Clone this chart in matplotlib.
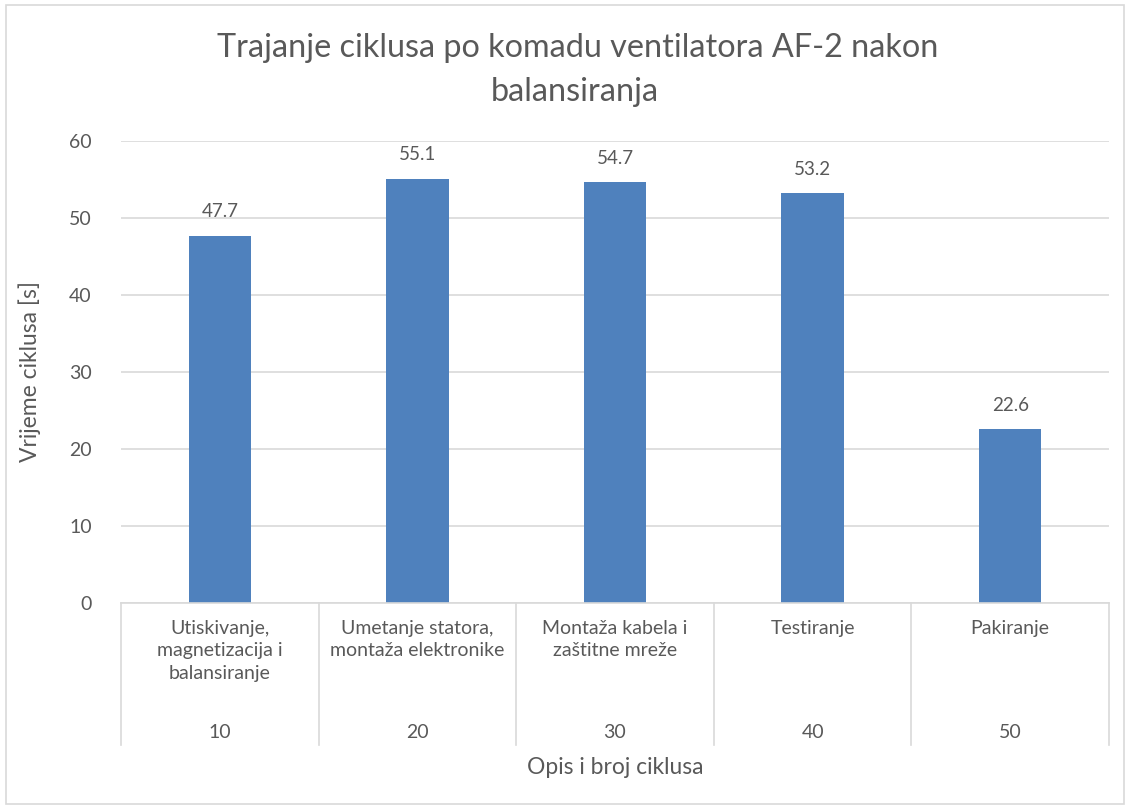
import matplotlib
matplotlib.use("Agg")
import matplotlib.pyplot as plt
from matplotlib.patches import Rectangle
import matplotlib.transforms as mtransforms

# Cycle times per operation after balancing
categories = [
    "Utiskivanje,\nmagnetizacija i\nbalansiranje",
    "Umetanje statora,\nmontaža elektronike",
    "Montaža kabela i\nzaštitne mreže",
    "Testiranje",
    "Pakiranje",
]
cycle_numbers = ["10", "20", "30", "40", "50"]
cycle_times = [47.7, 55.1, 54.7, 53.2, 22.6]
y_ticks = [0, 10, 20, 30, 40, 50, 60]

TEXT = "#595959"
GRID = "#d9d9d9"
BAR = "#4f81bd"
FONT = ["Lato", "DejaVu Sans"]

plt.rcParams["font.family"] = FONT

W, H = 1130, 809
fig = plt.figure(figsize=(W / 100, H / 100), dpi=100)

# plot area in pixels
left, right, top, bottom = 121, 1109, 141, 603
ax = fig.add_axes([left / W, (H - bottom) / H, (right - left) / W, (bottom - top) / H])

x = list(range(len(categories)))
ax.bar(x, cycle_times, width=0.315, color=BAR, zorder=3)
ax.set_xlim(-0.5, len(categories) - 0.5)
ax.set_ylim(0, 60)
ax.set_yticks(y_ticks)
ax.set_yticklabels([str(v) for v in y_ticks], color=TEXT, fontsize=14)
ax.tick_params(axis="y", length=0, pad=21)
ax.set_xticks([])
ax.grid(axis="y", color=GRID, linewidth=1.2, zorder=0)
for s in ["top", "right", "left"]:
    ax.spines[s].set_visible(False)
ax.spines["bottom"].set_color(GRID)
ax.spines["bottom"].set_linewidth(1.2)
ax.spines["bottom"].set_zorder(4)

# value labels above bars
for xi, v in zip(x, cycle_times):
    ax.annotate(f"{v:.1f}", (xi, v), xytext=(0, 11), textcoords="offset points",
                ha="center", va="bottom", color=TEXT, fontsize=13.5)

# two-level category axis below the plot area
px = (bottom - top)  # axes height in pixels
def ay(py):
    return (bottom - py) / px

trans = mtransforms.blended_transform_factory(ax.transData, ax.transAxes)
for b in [i - 0.5 for i in range(len(categories) + 1)]:
    ax.plot([b, b], [0, ay(745)], transform=trans, color=GRID, lw=1.2,
            clip_on=False, zorder=2)
for xi, lab, num in zip(x, categories, cycle_numbers):
    ax.text(xi, ay(620), lab, transform=trans, ha="center", va="top",
            color=TEXT, fontsize=14, linespacing=1.38)
    ax.text(xi, ay(732), num, transform=trans, ha="center", va="center",
            color=TEXT, fontsize=14)

ax.text(0.5, ay(768), "Opis i broj ciklusa", transform=ax.transAxes,
        ha="center", va="center", color=TEXT, fontsize=16.5)
fig.text(30 / W, 1 - 372 / H, "Vrijeme ciklusa [s]", rotation=90,
         ha="center", va="center", color=TEXT, fontsize=16.5)

fig.text(578 / W, 1 - 48 / H, "Trajanje ciklusa po komadu ventilatora AF-2 nakon",
         ha="center", va="center", color=TEXT, fontsize=23.3)
fig.text(575 / W, 1 - 92 / H, "balansiranja",
         ha="center", va="center", color=TEXT, fontsize=23.3)

# chart area border
fig.patches.append(Rectangle((6 / W, 5 / H), (W - 12) / W, (H - 10) / H,
                             transform=fig.transFigure, fill=False,
                             edgecolor=GRID, linewidth=1.2))

fig.savefig("out.png", dpi=100, facecolor="white")
